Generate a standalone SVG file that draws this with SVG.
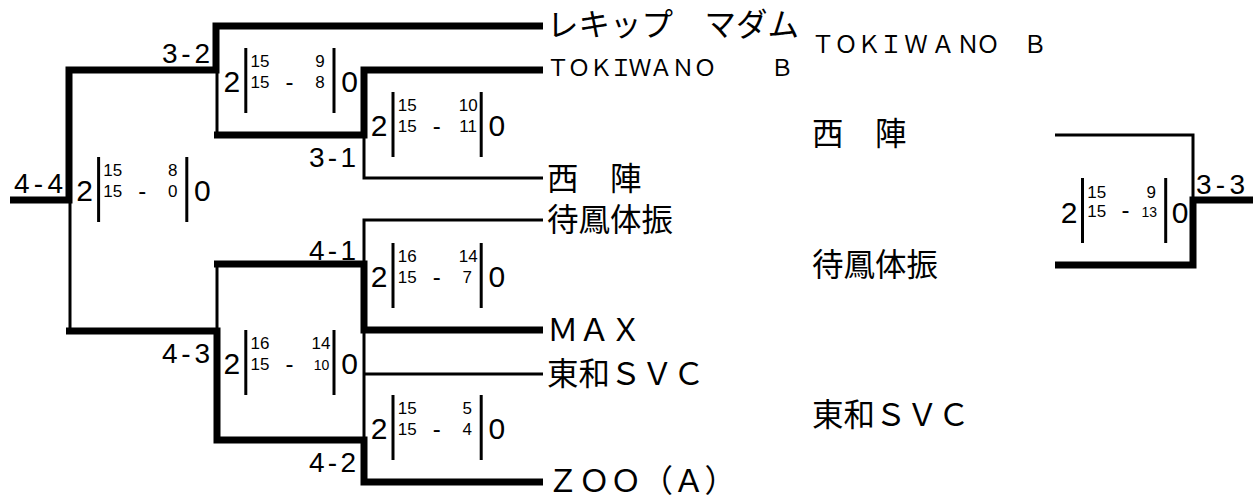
<svg xmlns="http://www.w3.org/2000/svg" width="1253" height="500" viewBox="0 0 1253 500">
<style>
.thick{fill:none;stroke:#000;stroke-width:7;stroke-linejoin:miter}
.thin{fill:none;stroke:#000;stroke-width:3;stroke-linejoin:miter}
.bar{stroke:#000;stroke-width:3}
.big{font-family:"Liberation Sans",Arial,sans-serif;font-size:30px;fill:#000}
.sm{font-family:"Liberation Sans",Arial,sans-serif;font-size:17px;fill:#000}
.sm2{font-family:"Liberation Sans",Arial,sans-serif;font-size:14px;fill:#000}
.hy{font-family:"Liberation Sans",Arial,sans-serif;font-size:24px;fill:#000;text-anchor:middle}
.mid{text-anchor:middle}
.rd{font-family:"Liberation Sans",Arial,sans-serif;font-size:28px;fill:#000}
.lbl{font-family:"Noto Sans CJK JP","Noto Sans",sans-serif;font-size:31.5px;fill:#000}
.tk{font-family:"Noto Sans CJK JP","Noto Sans",sans-serif;font-size:23px;fill:#000;text-anchor:middle}
</style>
<rect width="1253" height="500" fill="#fff"/>
<g id="connectors">
<polyline class="thick" points="543,26 216,26 216,70 69,70 69,200 10,200"/>
<polyline class="thin" points="217,70 217,135"/>
<polyline class="thick" points="543,70 364,70 364,135 214,135"/>
<polyline class="thin" points="364,135 364,178 543,178"/>
<polyline class="thin" points="543,220 364,220 364,264"/>
<polyline class="thick" points="543,330 364,330 364,264 214,264"/>
<polyline class="thin" points="217,264 217,331"/>
<polyline class="thin" points="364,330 364,440"/>
<polyline class="thin" points="543,374 364,374"/>
<polyline class="thick" points="543,482 364,482 364,440 217,440 217,331 66,331"/>
<polyline class="thin" points="70,331 70,200"/>
<polyline class="thin" points="1055,135 1193,135 1193,200"/>
<polyline class="thick" points="1055,265 1193,265 1193,200 1253,200"/>
</g>
<g id="team-lekip"><text class="lbl" x="547" y="36">レキップ　マダム</text></g>
<g id="team-tokiwano"><text class="tk" x="558 579 601 621 640 661 683 705 740 782" y="76">ＴＯＫＩＷＡＮＯ　Ｂ</text></g>
<g id="team-nishijin"><text class="lbl" x="547" y="189.5">西　陣</text></g>
<g id="team-taiho"><text class="lbl" x="547" y="230.5">待鳳体振</text></g>
<g id="team-max"><text class="lbl" x="547" y="341">ＭＡＸ</text></g>
<g id="team-towa"><text class="lbl" x="547" y="385">東和ＳＶＣ</text></g>
<g id="team-zoo"><text class="lbl" x="547" y="492">ＺＯＯ（Ａ）</text></g>
<g id="right-tokiwano"><text class="tk" style="font-size:23.5px" x="823 846 869 891 916 943 968 988 1012 1035" y="53">ＴＯＫＩＷＡＮＯ　Ｂ</text></g>
<g id="right-nishijin"><text class="lbl" x="812" y="144.5">西　陣</text></g>
<g id="right-taiho"><text class="lbl" x="812" y="275.5">待鳳体振</text></g>
<g id="right-towa"><text class="lbl" x="812" y="426">東和ＳＶＣ</text></g>
<g id="round-labels">
<text class="rd" x="14" y="193" textLength="49" lengthAdjust="spacing">4-4</text>
<text class="rd" x="162" y="63" textLength="48" lengthAdjust="spacing">3-2</text>
<text class="rd" x="309" y="167" textLength="47" lengthAdjust="spacing">3-1</text>
<text class="rd" x="309" y="260" textLength="47" lengthAdjust="spacing">4-1</text>
<text class="rd" x="162" y="363" textLength="48" lengthAdjust="spacing">4-3</text>
<text class="rd" x="309" y="472" textLength="47" lengthAdjust="spacing">4-2</text>
<text class="rd" x="1196" y="194" textLength="49" lengthAdjust="spacing">3-3</text>
</g>
<g id="score-44" transform="translate(77.3,200.5)">
<text class="big" x="-1" y="0">2</text><line class="bar" x1="21.3" y1="-43.5" x2="21.3" y2="21.5"/>
<text class="sm" x="26" y="-25">15</text><text class="sm" x="26" y="-3.5">15</text><text class="hy" x="65" y="-2">-</text>
<text class="sm mid" x="95.5" y="-25">8</text><text class="sm mid" x="95.5" y="-3.5">0</text>
<line class="bar" x1="109.5" y1="-43.5" x2="109.5" y2="21.5"/><text class="big" x="116.7" y="0">0</text>
</g>
<g id="score-32" transform="translate(224.5,91.5)">
<text class="big" x="-1" y="0">2</text><line class="bar" x1="21.3" y1="-43.5" x2="21.3" y2="21.5"/>
<text class="sm" x="26" y="-25">15</text><text class="sm" x="26" y="-3.5">15</text><text class="hy" x="65" y="-2">-</text>
<text class="sm mid" x="95.5" y="-25">9</text><text class="sm mid" x="95.5" y="-3.5">8</text>
<line class="bar" x1="109.5" y1="-43.5" x2="109.5" y2="21.5"/><text class="big" x="116.7" y="0">0</text>
</g>
<g id="score-31" transform="translate(371.7,135.5)">
<text class="big" x="-1" y="0">2</text><line class="bar" x1="21.3" y1="-43.5" x2="21.3" y2="21.5"/>
<text class="sm" x="26" y="-25">15</text><text class="sm" x="26" y="-3.5">15</text><text class="hy" x="65" y="-2">-</text>
<text class="sm mid" x="96.5" y="-25">10</text><text class="sm mid" x="96.5" y="-3.5">11</text>
<line class="bar" x1="109.5" y1="-43.5" x2="109.5" y2="21.5"/><text class="big" x="116.7" y="0">0</text>
</g>
<g id="score-41" transform="translate(371.7,286.5)">
<text class="big" x="-1" y="0">2</text><line class="bar" x1="21.3" y1="-43.5" x2="21.3" y2="21.5"/>
<text class="sm" x="26" y="-25">16</text><text class="sm" x="26" y="-3.5">15</text><text class="hy" x="65" y="-2">-</text>
<text class="sm mid" x="96.5" y="-25">14</text><text class="sm mid" x="95.5" y="-3.5">7</text>
<line class="bar" x1="109.5" y1="-43.5" x2="109.5" y2="21.5"/><text class="big" x="116.7" y="0">0</text>
</g>
<g id="score-43" transform="translate(224.5,373.5)">
<text class="big" x="-1" y="0">2</text><line class="bar" x1="21.3" y1="-43.5" x2="21.3" y2="21.5"/>
<text class="sm" x="26" y="-25">16</text><text class="sm" x="26" y="-3.5">15</text><text class="hy" x="65" y="-2">-</text>
<text class="sm mid" x="96.5" y="-25">14</text><text class="sm2 mid" x="97" y="-3.5">10</text>
<line class="bar" x1="109.5" y1="-43.5" x2="109.5" y2="21.5"/><text class="big" x="116.7" y="0">0</text>
</g>
<g id="score-42" transform="translate(371.7,438.5)">
<text class="big" x="-1" y="0">2</text><line class="bar" x1="21.3" y1="-43.5" x2="21.3" y2="21.5"/>
<text class="sm" x="26" y="-25">15</text><text class="sm" x="26" y="-3.5">15</text><text class="hy" x="65" y="-2">-</text>
<text class="sm mid" x="95.5" y="-25">5</text><text class="sm mid" x="95.5" y="-3.5">4</text>
<line class="bar" x1="109.5" y1="-43.5" x2="109.5" y2="21.5"/><text class="big" x="116.7" y="0">0</text>
</g>
<g id="score-33" transform="translate(1061.7,223.3)">
<text class="big" x="-1" y="0">2</text><line class="bar" x1="20.8" y1="-45.3" x2="20.8" y2="19.7"/>
<text class="sm" x="25.5" y="-25">15</text><text class="sm" x="25.5" y="-6.6">15</text><text class="hy" x="63.8" y="-5">-</text>
<text class="sm mid" x="89.6" y="-25">9</text><text class="sm2 mid" x="87.5" y="-6.6">13</text>
<line class="bar" x1="104" y1="-45.3" x2="104" y2="19.7"/><text class="big" x="110" y="0">0</text>
</g>
</svg>
